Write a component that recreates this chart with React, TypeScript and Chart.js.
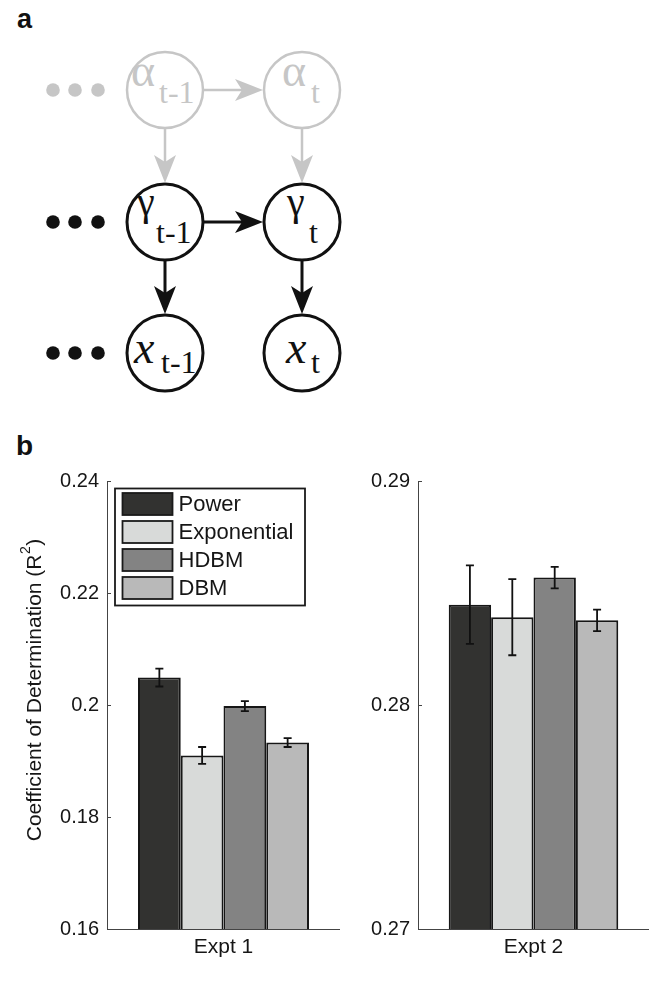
import React, { useEffect, useRef } from "react";
import { Chart, registerables } from "chart.js";
Chart.register(...registerables);

const SANS = "'Liberation Sans', Arial, Helvetica, sans-serif";
const SERIF = "'Liberation Serif', 'Times New Roman', serif";

// ---------- data ----------
const modelNames = ["Power", "Exponential", "HDBM", "DBM"];
const modelColors = ["#323230", "#d8dad9", "#838383", "#b9b9b9"];

const expt1Categories = ["Expt 1"];
const expt1Means = [0.2049, 0.191, 0.1998, 0.1933];
const expt1Errors = [0.0016, 0.0015, 0.0009, 0.0008];
const expt1TickValues = [0.16, 0.18, 0.2, 0.22, 0.24];
const expt1TickLabels = ["0.16", "0.18", "0.2", "0.22", "0.24"];

const expt2Categories = ["Expt 2"];
const expt2Means = [0.28448, 0.28392, 0.28569, 0.28378];
const expt2Errors = [0.00175, 0.0017, 0.00048, 0.00048];
const expt2TickValues = [0.27, 0.28, 0.29];
const expt2TickLabels = ["0.27", "0.28", "0.29"];

const yAxisTitle = "Coefficient of Determination (R";
const yAxisTitleSup = "2";

const TEXT = "#161616";

type PanelProps = {
  left: number;
  top: number;
  width: number;
  height: number;
  axisWidth: number;
  categories: string[];
  means: number[];
  errors: number[];
  tickValues: number[];
  tickLabels: string[];
  withLegend: boolean;
};

function BarPanel(p: PanelProps) {
  const ref = useRef<HTMLCanvasElement>(null);
  useEffect(() => {
    const canvas = ref.current!;
    const yMin = p.tickValues[0];
    const yMax = p.tickValues[p.tickValues.length - 1];

    const decorations = {
      id: "decorations",
      afterDatasetsDraw(chart: any) {
        const ctx = chart.ctx;
        const ys = chart.scales.y;
        const area = chart.chartArea;
        ctx.save();
        ctx.strokeStyle = "#444";
        ctx.lineWidth = 1;
        p.tickValues.forEach((v) => {
          const y = Math.round(ys.getPixelForValue(v)) + 0.5;
          ctx.beginPath();
          ctx.moveTo(area.left, y);
          ctx.lineTo(area.left + 4, y);
          ctx.stroke();
        });
        ctx.strokeStyle = "#111";
        ctx.lineWidth = 1.8;
        chart.data.datasets.forEach((ds: any, i: number) => {
          const meta = chart.getDatasetMeta(i);
          meta.data.forEach((el: any, j: number) => {
            const v = ds.data[j];
            const e = p.errors[i];
            const x = el.x;
            const y1 = ys.getPixelForValue(v + e);
            const y2 = ys.getPixelForValue(v - e);
            ctx.beginPath();
            ctx.moveTo(x, y1);
            ctx.lineTo(x, y2);
            ctx.moveTo(x - 4, y1);
            ctx.lineTo(x + 4, y1);
            ctx.moveTo(x - 4, y2);
            ctx.lineTo(x + 4, y2);
            ctx.stroke();
          });
        });
        ctx.restore();
      },
      afterDraw(chart: any) {
        if (!p.withLegend) return;
        const ctx = chart.ctx;
        const area = chart.chartArea;
        ctx.save();
        const cy = (area.top + area.bottom) / 2 - 15;
        ctx.translate(35, cy);
        ctx.rotate(-Math.PI / 2);
        ctx.fillStyle = TEXT;
        ctx.textBaseline = "middle";
        ctx.textAlign = "left";
        ctx.font = `21px ${SANS}`;
        const w1 = ctx.measureText(yAxisTitle).width;
        ctx.font = `14px ${SANS}`;
        const w2 = ctx.measureText(yAxisTitleSup).width;
        ctx.font = `21px ${SANS}`;
        const w3 = ctx.measureText(")").width;
        const total = w1 + w2 + 1 + w3;
        let x = -total / 2;
        ctx.fillText(yAxisTitle, x, 0);
        x += w1;
        ctx.font = `14px ${SANS}`;
        ctx.fillText(yAxisTitleSup, x + 0.5, -9);
        x += w2 + 1;
        ctx.font = `21px ${SANS}`;
        ctx.fillText(")", x, 0);
        ctx.restore();

        ctx.save();
        const bx = area.left + 8;
        const by = area.top + 7.5;
        const bw = 190;
        const bh = 117;
        ctx.fillStyle = "#fff";
        ctx.fillRect(bx, by, bw, bh);
        ctx.strokeStyle = "#1a1a1a";
        ctx.lineWidth = 1.8;
        ctx.strokeRect(bx, by, bw, bh);
        ctx.font = `22px ${SANS}`;
        ctx.textBaseline = "middle";
        ctx.textAlign = "left";
        modelNames.forEach((name, i) => {
          const sy = by + 4.5 + i * 28;
          ctx.fillStyle = modelColors[i];
          ctx.fillRect(bx + 7.5, sy, 50, 22);
          ctx.strokeStyle = "#1a1a1a";
          ctx.lineWidth = 1.8;
          ctx.strokeRect(bx + 7.5, sy, 50, 22);
          ctx.fillStyle = TEXT;
          ctx.fillText(name, bx + 63.5, sy + 12);
        });
        ctx.restore();
      },
    };

    const chart = new Chart(canvas, {
      type: "bar",
      data: {
        labels: p.categories,
        datasets: modelNames.map((name, i) => ({
          label: name,
          data: [p.means[i]],
          backgroundColor: modelColors[i],
          borderColor: "#161616",
          borderWidth: 2,
          borderSkipped: false,
          categoryPercentage: 0.734,
          barPercentage: 1,
        })),
      },
      options: {
        responsive: false,
        animation: false,
        layout: { padding: { top: 41, left: 0, right: 0, bottom: 0 } },
        plugins: { legend: { display: false }, tooltip: { enabled: false } },
        scales: {
          x: {
            grid: { display: false, drawTicks: false },
            border: { display: true, color: "#444", width: 1 },
            ticks: {
              padding: 6,
              color: TEXT,
              font: { family: SANS, size: 21 },
            },
            afterFit: (s: any) => {
              s.height = 68;
            },
          },
          y: {
            min: yMin,
            max: yMax,
            grid: { display: false, drawTicks: false },
            border: { display: true, color: "#444", width: 1 },
            afterBuildTicks: (s: any) => {
              s.ticks = p.tickValues.map((v) => ({ value: v }));
            },
            ticks: {
              padding: 8,
              color: TEXT,
              font: { family: SANS, size: 20 },
              callback: (v: any) => {
                const idx = p.tickValues.findIndex((t) => Math.abs(t - Number(v)) < 1e-9);
                return idx >= 0 ? p.tickLabels[idx] : "";
              },
            },
            afterFit: (s: any) => {
              s.width = p.axisWidth;
            },
          },
        },
      },
      plugins: [decorations],
    } as any);
    return () => chart.destroy();
  }, []);
  return (
    <canvas
      ref={ref}
      width={p.width}
      height={p.height}
      style={{ position: "absolute", left: p.left, top: p.top, width: p.width, height: p.height }}
    />
  );
}

// ---------- diagram ----------
const nodeCols = [165, 302];
const nodeRows = [90, 222, 353];
const GRAY = "#c6c6c6";
const BLACK = "#111";

function Arrow(props: { x1: number; y1: number; x2: number; y2: number; color: string; w: number }) {
  const { x1, y1, x2, y2, color, w } = props;
  const dx = x2 - x1;
  const dy = y2 - y1;
  const len = Math.hypot(dx, dy);
  const ux = dx / len;
  const uy = dy / len;
  const px = -uy;
  const py = ux;
  const L = 28;
  const W = 11;
  const N = 21;
  const bx = x2 - ux * L;
  const by = y2 - uy * L;
  const pts = [
    [x2, y2],
    [bx + px * W, by + py * W],
    [x2 - ux * N, y2 - uy * N],
    [bx - px * W, by - py * W],
  ]
    .map((q) => q.join(","))
    .join(" ");
  return (
    <g>
      <line x1={x1} y1={y1} x2={x2 - ux * (N - 2)} y2={y2 - uy * (N - 2)} stroke={color} strokeWidth={w} />
      <polygon points={pts} fill={color} />
    </g>
  );
}

const rowLabels: { sym: string; italic: boolean; symSize: number; subSize: number; symDy: number; subDy: number }[] = [
  { sym: "α", italic: false, symSize: 46, subSize: 32, symDy: -4, subDy: 13 },
  { sym: "γ", italic: false, symSize: 40, subSize: 32, symDy: -7, subDy: 21 },
  { sym: "x", italic: true, symSize: 46, subSize: 32, symDy: 10, subDy: 20 },
];
const colSubs = ["t-1", "t"];
const symDxTable = [
  [-34, -20],
  [-28, -15],
  [-31, -16],
];
const subDxTable = [
  [-6, 9],
  [-9, 7],
  [-4, 9],
];

function Diagram() {
  const R = 38;
  const rowColor = [GRAY, BLACK, BLACK];
  const rowStroke = [2.5, 3, 3];
  const dotXs = [53, 75, 98];
  const els: any[] = [];
  nodeRows.forEach((cy, r) => {
    const color = rowColor[r];
    const sw = rowStroke[r];
    dotXs.forEach((dx, k) => els.push(<circle key={`d${r}${k}`} cx={dx} cy={cy} r={6.8} fill={color} />));
    nodeCols.forEach((cx, c) => {
      els.push(<circle key={`c${r}${c}`} cx={cx} cy={cy} r={R} fill="#fff" stroke={color} strokeWidth={sw} />);
      const L = rowLabels[r];
      els.push(
        <text
          key={`s${r}${c}`}
          x={cx + symDxTable[r][c]}
          y={cy + L.symDy}
          fill={color}
          fontFamily={SERIF}
          fontStyle={L.italic ? "italic" : "normal"}
          fontSize={L.symSize}
        >
          {L.sym}
        </text>
      );
      els.push(
        <text key={`t${r}${c}`} x={cx + subDxTable[r][c]} y={cy + L.subDy} fill={color} fontFamily={SERIF} fontSize={L.subSize}>
          {colSubs[c]}
        </text>
      );
    });
  });
  [0, 1].forEach((r) => {
    const cy = nodeRows[r];
    els.push(
      <Arrow key={`h${r}`} x1={nodeCols[0] + R} y1={cy} x2={nodeCols[1] - R - 1} y2={cy} color={rowColor[r]} w={rowStroke[r]} />
    );
  });
  [0, 1].forEach((r) => {
    nodeCols.forEach((cx, c) => {
      els.push(
        <Arrow
          key={`v${r}${c}`}
          x1={cx}
          y1={nodeRows[r] + R}
          x2={cx}
          y2={nodeRows[r + 1] - R - 1}
          color={rowColor[r]}
          w={rowStroke[r]}
        />
      );
    });
  });
  return <g>{els}</g>;
}

export default function App() {
  return (
    <div style={{ position: "absolute", left: 0, top: 0, width: 649, height: 997, background: "#fff", overflow: "hidden" }}>
      <svg width={649} height={997} style={{ position: "absolute", left: 0, top: 0 }}>
        <text x={17} y={28} fontFamily={SANS} fontWeight="bold" fontSize={27} fill="#111">
          a
        </text>
        <text x={16} y={455} fontFamily={SANS} fontWeight="bold" fontSize={28} fill="#111">
          b
        </text>
        <Diagram />
      </svg>
      <BarPanel
        left={0}
        top={440}
        width={340}
        height={557}
        axisWidth={107}
        categories={expt1Categories}
        means={expt1Means}
        errors={expt1Errors}
        tickValues={expt1TickValues}
        tickLabels={expt1TickLabels}
        withLegend={true}
      />
      <BarPanel
        left={340}
        top={440}
        width={309}
        height={557}
        axisWidth={78}
        categories={expt2Categories}
        means={expt2Means}
        errors={expt2Errors}
        tickValues={expt2TickValues}
        tickLabels={expt2TickLabels}
        withLegend={false}
      />
    </div>
  );
}
